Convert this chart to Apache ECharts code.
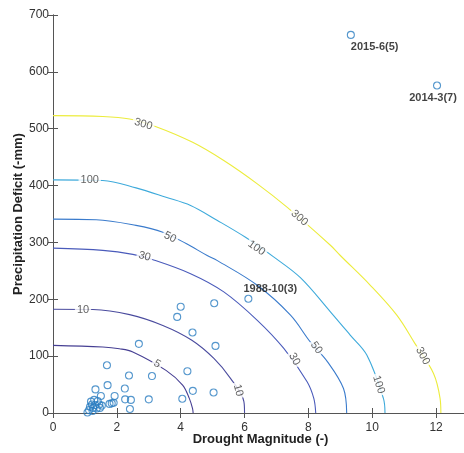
<!DOCTYPE html>
<html><head><meta charset="utf-8">
<script src="https://cdn.jsdelivr.net/npm/echarts@6/dist/echarts.min.js"></script>
<style>html,body{margin:0;padding:0;background:#fff}#c{width:464px;height:453px}</style>
</head><body><div id="c"></div>
<script>
// ---- data ----
const droughtEvents = [
  [1.08,1],[1.13,5],[1.24,3.5],[1.16,11],[1.26,9],[1.37,8],[1.47,9],[1.22,15],[1.32,14],
  [1.45,15],[1.53,13],[1.19,20],[1.29,23],[1.40,21],[1.5,30],[1.33,41.5],[1.71,49],[1.69,84],
  [1.77,16],[1.84,17],[1.9,18],[1.93,30],[2.26,24],[2.44,23],[2.41,7],[2.25,43],[2.38,66],
  [2.69,121.6],[3.0,24],[3.1,65],[3.89,169],[4.0,187],[4.05,25],[4.21,73.5],[4.37,141.6],
  [4.38,39],[5.03,36],[5.05,193],[5.09,118]
];
const namedEventNames = ['2015-6(5)','2014-3(7)','1988-10(3)'];
const namedEventX = [9.33, 12.03, 6.12];
const namedEventY = [665, 576, 201];

const contourLevels = [5, 10, 30, 50, 100, 300];
const contour5 = [[0,119],[1.56,116],[2.08,113],[2.5,107.5],[3.54,75],[4.06,49],[4.27,25.7],[4.37,8],[4.39,0]];
const contour10 = [[0,182.5],[1.25,182],[2.4,173],[3.44,154],[4.35,128],[5.04,96],[5.56,61],[5.98,20],[6.0,0]];
const contour30 = [[0,290],[1.56,286],[2.5,279],[3.11,270],[4.31,245],[5.35,213],[6.4,163],[7.23,113.5],[7.96,55],[8.17,25.7],[8.23,0]];
const contour50 = [[0,341],[1.35,340],[2.6,330],[3.44,318],[4.17,298],[4.83,277],[5.15,268],[6.4,224.6],[7.44,172],[8.06,125],[8.6,90],[9.1,43],[9.2,0]];
const contour100 = [[0,410],[1.56,409],[2.6,396],[3.54,379.5],[4.31,365],[5.15,338.6],[6.03,309],[6.9,275],[7.75,238],[8.69,178],[9.31,137],[9.83,102],[10.35,25.7],[10.4,0]];
const contour300 = [[0,523],[1.56,521.6],[2.4,517],[3.23,503.5],[4.375,476],[5.35,444],[6.4,403],[7.33,362],[8.69,295],[9.0,277],[9.94,224.6],[10.77,172],[11.34,122],[11.92,69.6],[12.125,25.7],[12.15,0]];
const contourData = [contour5, contour10, contour30, contour50, contour100, contour300];

// contour label anchors: [level, x, y]
const contourLabelPoints = [
  [300,2.83,508],[300,7.72,343],[300,11.58,100.5],
  [100,1.15,409],[100,6.375,290],[100,10.2,50],
  [50,3.67,309],[50,8.25,114.6],
  [30,2.87,275.4],[30,7.56,94.7],
  [10,0.94,182],[10,5.8,40],
  [5,3.26,86.5]
];

const xTickValues = [0,2,4,6,8,10,12];
const yTickValues = [0,100,200,300,400,500,600,700];

// ---- styles ----
const contourColors = {5:'#463f93',10:'#4a4b9e',30:'#4a5bbb',50:'#3a7bcc',100:'#3eaadb',300:'#ecec3c'};
const contourLabelAngles = [-16,-41,-62, 0,-35,-72, -26,-55, -15,-60, 0,-75, -30];
const namedLabelStyle = [
  {align:'left', offset:[0,12]},
  {align:'center', offset:[-4,12]},
  {align:'center', offset:[22,-10]}
];
const FONT = '"Liberation Sans", Arial, Helvetica, sans-serif';
const axisColor = '#555';
const markerColor = '#2a7dc0';

const chart = echarts.init(document.getElementById('c'), null, {renderer:'canvas'});

const series = [];
contourLevels.forEach((lv, i) => {
  series.push({
    type:'line', data: contourData[i], showSymbol:false, smooth:0.35, silent:true,
    lineStyle:{color:contourColors[lv], width:1.1}, z:2, animation:false
  });
});
series.push({
  type:'scatter', symbol:'circle', symbolSize:1, silent:true, z:3,
  itemStyle:{color:'rgba(0,0,0,0)'},
  data: contourLabelPoints.map((p,i) => ({
    value:[p[1],p[2],p[0]],
    label:{rotate:contourLabelAngles[i]}
  })),
  label:{show:true, position:'inside', formatter:(d)=>String(d.value[2]),
    color:'#3a3a3a', fontSize:11, fontFamily:FONT, backgroundColor:'#fff', padding:[0,2]}
});
series.push({
  type:'scatter', symbol:'circle', symbolSize:7, silent:true, z:4,
  itemStyle:{color:'rgba(0,0,0,0)', borderColor:markerColor, borderWidth:1.1},
  data: droughtEvents
});
series.push({
  type:'scatter', symbol:'circle', symbolSize:7, silent:true, z:5,
  itemStyle:{color:'rgba(0,0,0,0)', borderColor:markerColor, borderWidth:1.1},
  data: namedEventNames.map((n,i) => ({
    name:n, value:[namedEventX[i], namedEventY[i]],
    label:{show:true, position:'inside', formatter:n, align:namedLabelStyle[i].align,
      verticalAlign:'middle', offset:namedLabelStyle[i].offset,
      color:'#111', fontWeight:'bold', fontSize:11, fontFamily:FONT}
  }))
});

const baseAxis = (extra) => Object.assign({
  type:'value',
  axisLine:{show:true, lineStyle:{color:axisColor, width:1}},
  axisTick:{show:true, inside:true, length:5, lineStyle:{color:axisColor, width:1}},
  splitLine:{show:false}
}, extra);

chart.setOption({
  animation:false,
  backgroundColor:'#fff',
  grid:{left:53, top:15, width:415, height:398, containLabel:false, outerBoundsMode:'none'},
  xAxis:[
    baseAxis({position:'bottom', min:0, max:13, interval:2,
      axisLabel:{show:true, margin:9, color:'#333', fontSize:12, fontFamily:FONT, showMaxLabel:false,
        formatter:(v)=> xTickValues.indexOf(v) >= 0 ? String(v) : ''},
      name:'Drought Magnitude (-)', nameLocation:'middle', nameGap:20, nameMoveOverlap:false,
      nameTextStyle:{fontWeight:'bold', fontSize:13, color:'#222', fontFamily:FONT}}),
    baseAxis({position:'top', min:0, max:13, interval:2, axisLabel:{show:false}})
  ],
  yAxis:[
    baseAxis({position:'left', min:0, max:700, interval:100,
      axisLabel:{show:true, margin:4, color:'#333', fontSize:12, fontFamily:FONT,
        formatter:(v)=> yTickValues.indexOf(v) >= 0 ? String(v) : ''},
      name:'Precipitation Deficit (-mm)', nameLocation:'middle', nameGap:28, nameRotate:90, nameMoveOverlap:false,
      nameTextStyle:{fontWeight:'bold', fontSize:13, color:'#222', fontFamily:FONT}}),
    baseAxis({position:'right', min:0, max:700, interval:100, axisLabel:{show:false}})
  ],
  series: series
});
</script></body></html>
